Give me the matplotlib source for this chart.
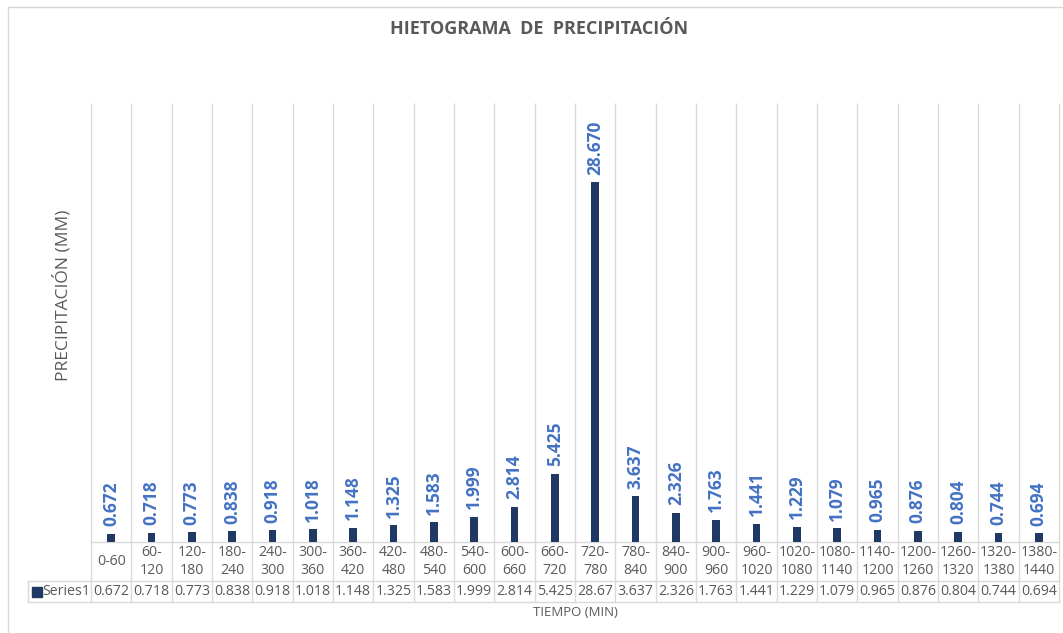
import matplotlib
matplotlib.use("Agg")
import matplotlib.pyplot as plt
from matplotlib.lines import Line2D

categories = ["0-60", "60-\n120", "120-\n180", "180-\n240", "240-\n300", "300-\n360",
              "360-\n420", "420-\n480", "480-\n540", "540-\n600", "600-\n660", "660-\n720",
              "720-\n780", "780-\n840", "840-\n900", "900-\n960", "960-\n1020", "1020-\n1080",
              "1080-\n1140", "1140-\n1200", "1200-\n1260", "1260-\n1320", "1320-\n1380", "1380-\n1440"]
values = [0.672, 0.718, 0.773, 0.838, 0.918, 1.018, 1.148, 1.325, 1.583, 1.999, 2.814, 5.425,
          28.67, 3.637, 2.326, 1.763, 1.441, 1.229, 1.079, 0.965, 0.876, 0.804, 0.744, 0.694]
series_name = "Series1"
title = "HIETOGRAMA  DE  PRECIPITACIÓN"
ylabel = "PRECIPITACIÓN (MM)"
xlabel = "TIEMPO (MIN)"

plt.rcParams['font.family'] = ['Open Sans', 'DejaVu Sans']

W, H = 1063, 633
fig = plt.figure(figsize=(W / 100, H / 100), dpi=100)
fig.patch.set_facecolor("white")

x0, x1, ybase, ytop = 91, 1059, 542, 103
ax = fig.add_axes([x0 / W, (H - ybase) / H, (x1 - x0) / W, (ybase - ytop) / H])
n = len(values)
ax.set_xlim(0, n)
ax.set_ylim(0, 35)
for s in ax.spines.values():
    s.set_visible(False)
ax.set_xticks([])
ax.set_yticks([])

grid_c = "#D9D9D9"
text_c = "#595959"
bar_c = "#203864"
lab_c = "#4472C4"

ph = ybase - ytop
def yf(py):
    return (ybase - py) / ph

xt = ax.get_xaxis_transform()
tbl_top = yf(580.7)
tbl_bot = yf(602.3)
unit = (x1 - x0) / n
cell_left = (28 - x0) / unit

# vertical gridlines through plot and table
ax.vlines(range(n + 1), tbl_bot, 1, transform=xt, colors=grid_c, lw=1.0, clip_on=False, zorder=0)
# baseline
ax.plot([0, n], [0, 0], transform=xt, color=grid_c, lw=1.0, clip_on=False, zorder=1)
# table horizontals
ax.plot([cell_left, n], [tbl_top, tbl_top], transform=xt, color=grid_c, lw=1.0, clip_on=False)
ax.plot([cell_left, n], [tbl_bot, tbl_bot], transform=xt, color=grid_c, lw=1.0, clip_on=False)
ax.plot([cell_left, cell_left], [tbl_top, tbl_bot], transform=xt, color=grid_c, lw=1.0, clip_on=False)

xs = [i + 0.5 for i in range(n)]
ax.bar(xs, values, width=0.19, color=bar_c, zorder=2)

for x, v in zip(xs, values):
    ax.annotate(f"{v:.3f}", (x, v), xytext=(0, 5.5), textcoords="offset points",
                rotation=90, ha="center", va="bottom", color=lab_c,
                fontsize=12.5, fontweight="bold")

for x, c in zip(xs, categories):
    ax.text(x, yf(561.5), c, transform=xt, ha="center", va="center",
            fontsize=10.2, color=text_c, linespacing=1.2)

for x, v in zip(xs, values):
    ax.text(x, yf(591.7), f"{v:g}", transform=xt, ha="center", va="center",
            fontsize=10.2, color=text_c)

ax.plot([(37 - x0) / unit], [yf(591.7)], transform=xt, marker="s", ms=6.5,
        color=bar_c, clip_on=False)
ax.text((42.5 - x0) / unit, yf(591.7), series_name, transform=xt, ha="left", va="center",
        fontsize=10.2, color=text_c)

# chart border
fig.add_artist(Line2D([7.5 / W, 7.5 / W], [0, 1 - 7 / H], transform=fig.transFigure,
                      color=grid_c, lw=1.0))
fig.add_artist(Line2D([7.5 / W, 1], [1 - 7 / H, 1 - 7 / H], transform=fig.transFigure,
                      color=grid_c, lw=1.0))

fig.text(539.5 / W, 1 - 29.5 / H, title, ha="center", va="center", fontsize=13,
         fontweight="bold", color=text_c)
fig.text(62 / W, 1 - 295 / H, ylabel, ha="center", va="center", rotation=90,
         fontsize=12.5, color=text_c)
fig.text(575 / W, 1 - 613 / H, xlabel, ha="center", va="center", fontsize=9.5,
         color=text_c)

fig.savefig("out.png", dpi=100, facecolor="white")
